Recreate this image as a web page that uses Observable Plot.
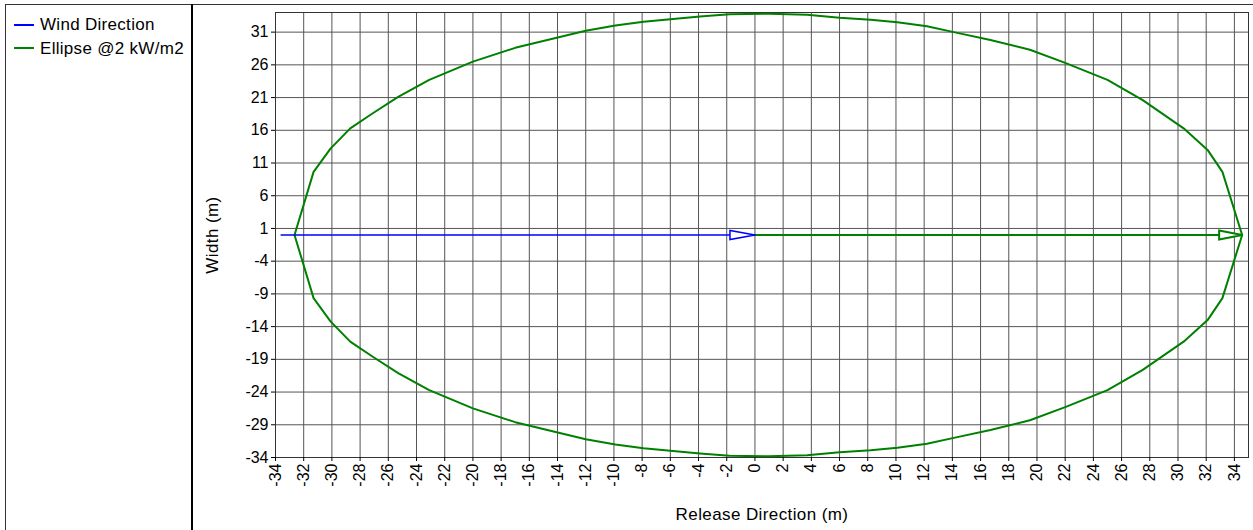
<!DOCTYPE html>
<html>
<head>
<meta charset="utf-8">
<script src="https://cdn.jsdelivr.net/npm/d3@7"></script>
<script src="https://cdn.jsdelivr.net/npm/@observablehq/plot@0.6"></script>
<style>
  html, body { margin: 0; padding: 0; background: #fff; }
  #wrap { position: relative; width: 1253px; height: 530px; overflow: hidden; font-family: "Liberation Sans", Arial, sans-serif; }
  #chart { position: absolute; left: 0; top: 0; }
  .hline { position: absolute; left: 5px; top: 4px; width: 1248px; height: 1px; background: #333; }
  .vline { position: absolute; left: 5px; top: 4px; width: 1px; height: 526px; background: #333; }
  .divider { position: absolute; left: 191px; top: 4px; width: 2px; height: 526px; background: #000; }
  .leg { position: absolute; left: 14px; font-size: 17px; letter-spacing: 0.3px; color: #000; white-space: nowrap; }
  .leg .sw { display: inline-block; width: 20px; height: 0; vertical-align: middle; margin-right: 6px; position: relative; top: -1px; }
</style>
</head>
<body>
<div id="wrap">
  <div id="chart"></div>
  <div class="hline"></div>
  <div class="vline"></div>
  <div class="divider"></div>
  <div id="legend"></div>
</div>
<script>
// ---- data ----
const seriesNames = ["Wind Direction", "Ellipse @2 kW/m2"];
const seriesColors = ["#0000ff", "#008000"];

const xTicks = [-34,-32,-30,-28,-26,-24,-22,-20,-18,-16,-14,-12,-10,-8,-6,-4,-2,0,2,4,6,8,10,12,14,16,18,20,22,24,26,28,30,32,34];
const yTicks = [-34,-29,-24,-19,-14,-9,-4,1,6,11,16,21,26,31];

// ellipse outline, going counter-clockwise from the downwind tip
const ellipseX = [34.55, 33.15, 32.1, 30.4, 27.5, 25.0, 22.0, 19.5, 16.7, 14.1, 12.2, 10.1, 8.2, 6.0, 3.7, 1.0, -1.8, -3.9, -7.9, -9.9, -12.0, -15.9, -17.0, -20.0, -23.1, -25.3, -27.1, -28.7, -30.1, -31.3, -32.65,
                  -31.3, -30.1, -28.7, -27.1, -25.3, -23.1, -20.0, -17.0, -15.9, -12.0, -9.9, -7.9, -3.9, -1.8, 1.0, 3.7, 6.0, 8.2, 10.1, 12.2, 14.1, 16.7, 19.5, 22.0, 25.0, 27.5, 30.4, 32.1, 33.15, 34.55];
const ellipseY = [0, 9.65, 13.0, 16.3, 20.6, 23.7, 26.3, 28.3, 29.8, 31.0, 31.9, 32.5, 32.9, 33.2, 33.65, 33.8, 33.75, 33.4, 32.6, 32.0, 31.2, 29.2, 28.6, 26.5, 23.7, 21.1, 18.6, 16.3, 13.2, 9.65, 0,
                  -9.65, -13.2, -16.3, -18.6, -21.1, -23.7, -26.5, -28.6, -29.2, -31.2, -32.0, -32.6, -33.4, -33.75, -33.8, -33.65, -33.2, -32.9, -32.5, -31.9, -31.0, -29.8, -28.3, -26.3, -23.7, -20.6, -16.3, -13.0, -9.65, 0];

// wind direction arrow and ellipse axis arrow
const windX = [-33.6, 0];
const windY = [0, 0];
const axisX = [0, 34.55];
const axisY = [0, 0];

// ---- build ----
const ellipse = ellipseX.map((x, i) => ({x, y: ellipseY[i]}));
const wind = windX.map((x, i) => ({x, y: windY[i]}));
const axisLine = axisX.map((x, i) => ({x, y: axisY[i]}));

function arrowHead(len, half) {
  return {
    draw(context) {
      context.moveTo(0, 0);
      context.lineTo(-len, -half);
      context.lineTo(-len, half);
      context.closePath();
    }
  };
}

const chart = Plot.plot({
  width: 1253,
  height: 530,
  marginLeft: 275,
  marginRight: 5,
  marginTop: 12,
  marginBottom: 73,
  x: {domain: [-34, 35], ticks: xTicks},
  y: {domain: [-34, 34], ticks: yTicks},
  style: {fontFamily: "'Liberation Sans', Arial, sans-serif", fontSize: "16px", color: "#000", background: "transparent"},
  marks: [
    Plot.gridX(xTicks, {stroke: "#555", strokeOpacity: 1}),
    Plot.gridY(yTicks, {stroke: "#555", strokeOpacity: 1}),
    Plot.frame({stroke: "#333"}),
    Plot.axisX(xTicks, {tickRotate: -90, tickSize: 4, tickPadding: 2, label: null, tickFormat: d => String(d), fontSize: 16}),
    Plot.axisY(yTicks, {tickSize: 4, tickPadding: 3, label: null, tickFormat: d => String(d), fontSize: 16}),
    Plot.line(ellipse, {x: "x", y: "y", stroke: seriesColors[1], strokeWidth: 2}),
    Plot.line(axisLine, {x: "x", y: "y", stroke: seriesColors[1], strokeWidth: 2}),
    Plot.line(wind, {x: "x", y: "y", stroke: seriesColors[0], strokeWidth: 1.5}),
    Plot.dot([wind[1]], {x: "x", y: "y", symbol: arrowHead(25, 4.5), stroke: seriesColors[0], fill: "#fff", strokeWidth: 1.5}),
    Plot.dot([axisLine[1]], {x: "x", y: "y", symbol: arrowHead(23, 4.5), stroke: seriesColors[1], fill: "#fff", strokeWidth: 2}),
    Plot.text(["Width (m)"], {frameAnchor: "left", dx: -63, rotate: -90, text: d => d, textAnchor: "middle", lineAnchor: "middle", fontSize: 17, fill: "#000"}),
    Plot.text(["Release Direction (m)"], {frameAnchor: "bottom", dy: 57, text: d => d, textAnchor: "middle", lineAnchor: "middle", fontSize: 17, fill: "#000"})
  ]
});
document.getElementById("chart").appendChild(chart);
chart.querySelectorAll("text").forEach(t => {
  if (t.textContent === "Width (m)" || t.textContent === "Release Direction (m)") t.style.letterSpacing = "0.4px";
});

const legend = document.getElementById("legend");
seriesNames.forEach((name, i) => {
  const d = document.createElement("div");
  d.className = "leg";
  d.style.top = (15 + i * 23.5) + "px";
  const sw = document.createElement("span");
  sw.className = "sw";
  sw.style.borderTop = "2px solid " + seriesColors[i];
  d.appendChild(sw);
  d.appendChild(document.createTextNode(name));
  legend.appendChild(d);
});
</script>
</body>
</html>
